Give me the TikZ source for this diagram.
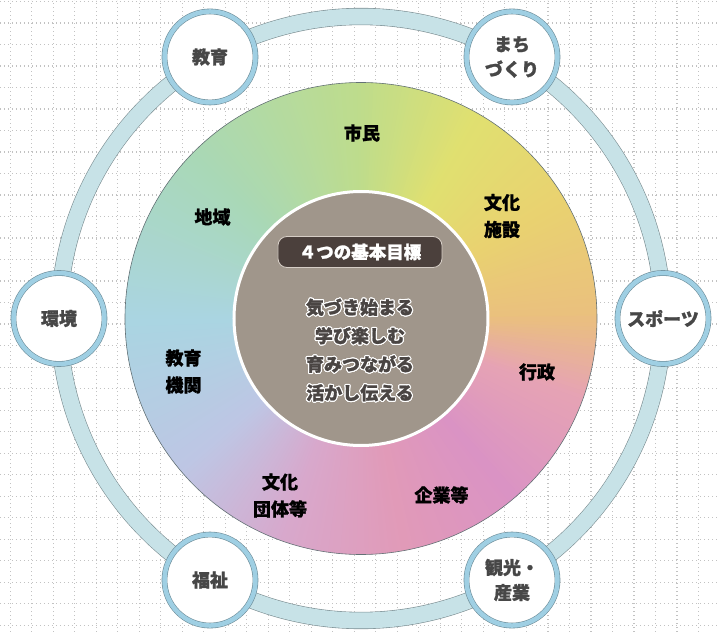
\documentclass[tikz,border=0pt]{standalone}
\usepackage{fontspec}
\setmainfont{Noto Sans CJK JP}[BoldFeatures={FakeBold=1.2}]
\usepackage{xcolor}
\usepackage{tikz}
\usepackage{contour}
\contourlength{1.1pt}
\usetikzlibrary{backgrounds}

\definecolor{gridgray}{HTML}{C2C2C2}
\definecolor{ringblue}{HTML}{C7E2E7}
\definecolor{ringline}{HTML}{7C8E92}
\definecolor{rimblue}{HTML}{9FCFE3}
\definecolor{rimline}{HTML}{6F8E9A}
\definecolor{hubtext}{HTML}{474747}
\definecolor{corebrown}{HTML}{A0968B}
\definecolor{pillbrown}{HTML}{4B403C}
\definecolor{pilledge}{HTML}{D6CEC6}
\definecolor{goaltext}{HTML}{4A4543}
\definecolor{wa}{HTML}{EAC07E}
\definecolor{wb}{HTML}{E9D270}
\definecolor{wc}{HTML}{E0E070}
\definecolor{wd}{HTML}{BEDC8C}
\definecolor{we}{HTML}{A9D8B6}
\definecolor{wf}{HTML}{AAD5E2}
\definecolor{wg}{HTML}{BEC6E4}
\definecolor{wh}{HTML}{D8A8CC}
\definecolor{wi}{HTML}{E19AB8}
\definecolor{wj}{HTML}{DA93C4}
\definecolor{wk}{HTML}{E6A3B4}

\begin{document}
\begin{tikzpicture}[x=1pt, y=1pt,
  gridline/.style={gridgray, line width=1.4pt, dash pattern=on 1.4pt off 2.6pt},
  ringband/.style={draw=ringline, line width=0.6pt, double=ringblue, double distance=16pt},
  hub/.style={circle, fill=white, draw=rimline, line width=0.6pt, double=rimblue,
    double distance=4.5pt, minimum size=91pt, inner sep=0pt, align=center,
    text=hubtext, font=\bfseries\fontsize{18}{25}\selectfont},
  sector/.style={align=center, text=black, font=\bfseries\fontsize{18}{27}\selectfont},
  pill/.style={rectangle, rounded corners=9pt, fill=pillbrown, draw=pilledge,
    line width=0.8pt, minimum width=164pt, minimum height=31pt, inner sep=0pt,
    text=white, font=\bfseries\fontsize{17.5}{20}\selectfont}
]
\useasboundingbox (-361,-313.5) rectangle (357,318.5);

% dotted background grid
\begin{pgfonlayer}{background}
\foreach \k in {0,...,32}
  \draw[gridline] (-350.7+21.5*\k,-313.5) -- (-350.7+21.5*\k,318.5);
\foreach \k in {0,...,29}
  \draw[gridline] (-361,316.8-21.5*\k) -- (357,316.8-21.5*\k);
\end{pgfonlayer}

% colour wheel
\foreach \sa/\ea/\ca/\cb in {0/30/wa/wb, 30/60/wb/wc, 60/90/wc/wd, 90/135/wd/we,
  135/180/we/wf, 180/220/wf/wg, 220/250/wg/wh, 250/280/wh/wi, 280/310/wi/wj,
  310/340/wj/wk, 340/360/wk/wa}{
  \pgfmathtruncatemacro{\eb}{\ea-1}
  \foreach \t in {\sa,...,\eb}{
    \pgfmathtruncatemacro{\p}{100*(\t-\sa)/(\ea-\sa)}
    \fill[\cb!\p!\ca] (0,0) -- (\t:236) arc[start angle=\t, end angle=\t+1.6, radius=236] -- cycle;
  }
}
\draw[ringline!80!black, line width=0.6pt] (0,0) circle[radius=236];

\node[circle, fill=corebrown, draw=white, line width=3pt, minimum size=254pt] (core) at (0,0) {};
\node[pill] (title) at (-1,66.5) {４つの基本目標};
\node[align=center, text=goaltext, font=\bfseries\fontsize{18}{28.5}\selectfont] (goals) at (-1,-32)
  {\contour{white}{気づき始まる}\\\contour{white}{学び楽しむ}\\
   \contour{white}{育みつながる}\\\contour{white}{活かし伝える}};

% sectors of the wheel
\node[sector] (shimin) at (1,185.5) {市民};
\node[sector] (bunkashisetsu) at (141,102.5) {文化\\施設};
\node[sector] (gyosei) at (176,-53.5) {行政};
\node[sector] (kigyo) at (80.5,-176.5) {企業等};
\node[sector] (bunkadantai) at (-81,-177) {文化\\団体等};
\node[sector] (kyoikukikan) at (-177.5,-53) {教育\\機関};
\node[sector] (chiiki) at (-148.5,101.5) {地域};

% outer ring
\node[hub] (sports) at (0:302) {スポーツ};
\node[hub] (machi) at (60:302) {まち\\づくり};
\node[hub] (kyoiku) at (120:302) {教育};
\node[hub] (kankyo) at (180:302) {環境};
\node[hub] (fukushi) at (240:302) {福祉};
\node[hub] (kanko) at (300:302) {観光・\\産業};

\begin{pgfonlayer}{background}
\draw[ringband] (sports.center) arc[start angle=0, end angle=60, radius=302];
\draw[ringband] (machi.center) arc[start angle=60, end angle=120, radius=302];
\draw[ringband] (kyoiku.center) arc[start angle=120, end angle=180, radius=302];
\draw[ringband] (kankyo.center) arc[start angle=180, end angle=240, radius=302];
\draw[ringband] (fukushi.center) arc[start angle=240, end angle=300, radius=302];
\draw[ringband] (kanko.center) arc[start angle=300, end angle=360, radius=302];
\end{pgfonlayer}

\end{tikzpicture}
\end{document}
